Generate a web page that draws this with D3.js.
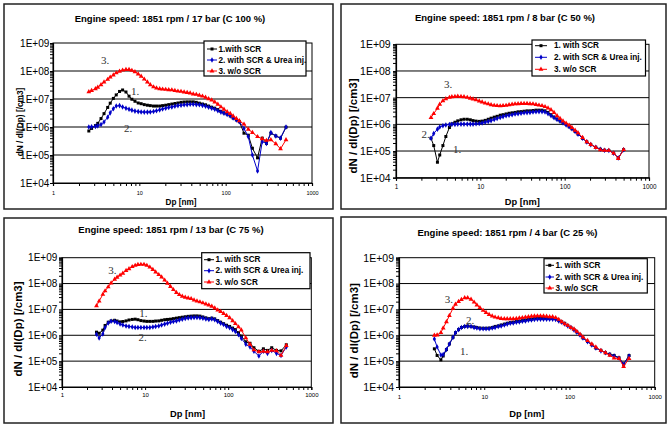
<!DOCTYPE html>
<html><head><meta charset="utf-8">
<script src="https://cdn.jsdelivr.net/npm/d3@7"></script>
<style>body{margin:0;background:#fff}svg{display:block}</style>
</head><body>
<svg id="c" width="668" height="425"></svg>
<script>
// ---------- DATA ----------
const dp = [2.6,2.8,3.1,3.3,3.6,3.9,4.3,4.6,5.0,5.4,
  5.9,6.4,7.0,7.6,8.2,8.9,9.7,10.5,11.4,12.4,
  13.4,14.6,15.8,17.2,18.6,20.2,21.9,23.8,25.8,28.0,
  30.4,33.0,35.8,38.8,42.1,45.7,49.6,53.9,58.5,63.5,
  68.9,74.8,81.2,88.1,95.6,104,113,122,133,144,
  163,183,204,234,265,297,334,381,432,500];

const yTicks = [1e4,1e5,1e6,1e7,1e8,1e9];
const yTickLabels = ["1E+04","1E+05","1E+06","1E+07","1E+08","1E+09"];
const xTicks = [1,10,100,1000];
const xTickLabels = ["1","10","100","1000"];

const titles = [
  "Engine speed: 1851 rpm / 17 bar (C 100 %)",
  "Engine speed: 1851 rpm / 8 bar (C 50 %)",
  "Engine speed: 1851 rpm / 13 bar (C 75 %)",
  "Engine speed: 1851 rpm / 4 bar (C 25 %)"
];
const yTitle = "dN / dl(Dp) [/cm3]";
const xTitle = "Dp [nm]";
const legendA = ["1.with SCR","2. with SCR & Urea inj.","3. w/o SCR"];
const legendB = ["1. with SCR","2. with SCR & Urea inj.","3. w/o SCR"];
const noteLabels = ["1.","2.","3."];

// Panel 1: 17 bar (C 100 %)
const p1Scr = [7.2e5,8.9e5,1.12e6,1.35e6,2.0e6,3.0e6,5.0e6,7.1e6,1.05e7,1.4e7,
  1.86e7,2.1e7,1.78e7,1.26e7,9.8e6,8.3e6,7.2e6,6.8e6,6.3e6,6.0e6,
  5.8e6,5.6e6,5.6e6,5.6e6,5.8e6,6.0e6,6.3e6,6.6e6,6.9e6,7.2e6,
  7.6e6,7.8e6,7.9e6,7.9e6,7.9e6,7.6e6,7.1e6,6.6e6,6.2e6,5.6e6,
  5.1e6,4.7e6,4.2e6,3.6e6,3.2e6,2.9e6,2.5e6,2.1e6,1.8e6,1.55e6,
  6.0e5,5.1e5,1.74e5,7.9e4,4.0e5,2.6e5,6.0e5,4.8e5,4.0e5,9.8e5];
const p1Urea = [1.0e6,1.02e6,1.05e6,1.1e6,1.23e6,1.51e6,2.24e6,3.2e6,4.5e6,5.6e6,
  5.8e6,5.2e6,4.7e6,4.3e6,4.0e6,3.7e6,3.55e6,3.45e6,3.4e6,3.4e6,
  3.45e6,3.6e6,3.8e6,4.1e6,4.4e6,4.7e6,5.0e6,5.2e6,5.5e6,5.8e6,
  6.0e6,6.2e6,6.3e6,6.5e6,6.5e6,6.3e6,6.2e6,5.9e6,5.5e6,5.1e6,
  4.7e6,4.3e6,3.8e6,3.4e6,3.1e6,2.8e6,2.5e6,2.1e6,1.8e6,1.55e6,
  8.9e5,4.5e5,1.0e5,2.7e4,3.0e5,2.6e5,6.3e5,4.8e5,4.0e5,1.0e6];
const p1NoScr = [1.8e7,2.0e7,2.3e7,2.6e7,3.2e7,4.0e7,5.0e7,6.0e7,7.2e7,8.5e7,
  9.8e7,1.07e8,1.12e8,1.12e8,1.05e8,9.3e7,7.8e7,6.5e7,5.1e7,4.0e7,
  3.2e7,2.7e7,2.45e7,2.3e7,2.24e7,2.2e7,2.14e7,2.1e7,2.0e7,1.9e7,
  1.86e7,1.78e7,1.7e7,1.62e7,1.51e7,1.45e7,1.35e7,1.26e7,1.15e7,1.02e7,
  9.1e6,7.8e6,6.5e6,5.2e6,4.3e6,3.5e6,3.0e6,2.45e6,2.0e6,1.66e6,
  1.26e6,8.3e5,6.3e5,4.5e5,3.8e5,3.3e5,3.5e5,2.5e5,1.66e5,3.5e5];

// Panel 2: 8 bar (C 50 %)
const p2Scr = [3.0e5,1.6e5,3.8e4,7.1e4,1.6e5,3.5e5,7.6e5,1.05e6,1.2e6,1.35e6,
  1.48e6,1.55e6,1.55e6,1.48e6,1.38e6,1.32e6,1.29e6,1.32e6,1.41e6,1.55e6,
  1.7e6,1.86e6,2.0e6,2.2e6,2.3e6,2.45e6,2.6e6,2.7e6,2.8e6,2.95e6,
  3.0e6,3.1e6,3.2e6,3.2e6,3.3e6,3.4e6,3.4e6,3.4e6,3.2e6,2.8e6,
  2.3e6,1.86e6,1.58e6,1.35e6,1.15e6,9.8e5,8.1e5,6.8e5,5.4e5,4.3e5,
  3.0e5,2.2e5,1.74e5,1.38e5,1.17e5,1.07e5,1.05e5,8.3e4,5.5e4,1.12e5];
const p2Urea = [3.0e5,4.5e5,6.6e5,7.9e5,8.9e5,9.5e5,9.8e5,1.0e6,1.0e6,1.02e6,
  1.02e6,1.02e6,1.02e6,1.02e6,1.02e6,1.05e6,1.07e6,1.12e6,1.2e6,1.29e6,
  1.38e6,1.51e6,1.66e6,1.8e6,1.95e6,2.1e6,2.2e6,2.3e6,2.45e6,2.5e6,
  2.6e6,2.7e6,2.75e6,2.8e6,2.9e6,2.95e6,3.0e6,3.0e6,2.9e6,2.5e6,
  2.1e6,1.78e6,1.51e6,1.32e6,1.12e6,9.5e5,8.1e5,6.8e5,5.4e5,4.3e5,
  3.0e5,2.2e5,1.74e5,1.38e5,1.17e5,1.07e5,1.05e5,8.3e4,5.5e4,1.12e5];
const p2NoScr = [1.8e6,2.5e6,4.0e6,5.6e6,7.6e6,9.1e6,1.02e7,1.07e7,1.1e7,1.12e7,
  1.1e7,1.07e7,1.02e7,9.5e6,8.9e6,8.3e6,7.4e6,6.8e6,6.2e6,5.8e6,
  5.4e6,5.1e6,5.0e6,4.9e6,5.0e6,5.1e6,5.4e6,5.6e6,5.8e6,5.9e6,
  6.0e6,6.0e6,6.0e6,5.9e6,5.8e6,5.5e6,5.2e6,5.0e6,4.6e6,4.1e6,
  3.5e6,2.75e6,2.1e6,1.66e6,1.32e6,1.1e6,9.3e5,7.6e5,6.0e5,4.8e5,
  3.2e5,2.2e5,1.74e5,1.35e5,1.1e5,1.05e5,1.05e5,8.3e4,5.2e4,1.12e5];

// Panel 3: 13 bar (C 75 %)
const p3Scr = [1.32e6,1.2e6,1.58e6,2.4e6,3.2e6,3.6e6,3.8e6,3.55e6,3.3e6,3.4e6,
  3.6e6,3.9e6,4.1e6,4.2e6,4.0e6,3.7e6,3.55e6,3.45e6,3.45e6,3.45e6,
  3.55e6,3.6e6,3.8e6,4.0e6,4.1e6,4.2e6,4.4e6,4.6e6,4.8e6,5.0e6,
  5.2e6,5.4e6,5.5e6,5.6e6,5.6e6,5.5e6,5.1e6,4.7e6,4.4e6,4.6e6,
  4.3e6,3.7e6,3.2e6,2.8e6,2.45e6,2.2e6,1.9e6,1.66e6,1.26e6,9.3e5,
  5.6e5,4.9e5,3.3e5,2.4e5,3.0e5,2.6e5,3.3e5,2.6e5,2.5e5,4.3e5];
const p3Urea = [1.1e6,7.9e5,1.12e6,2.0e6,3.0e6,3.5e6,3.4e6,3.1e6,2.75e6,2.5e6,
  2.3e6,2.2e6,2.1e6,2.0e6,2.0e6,2.0e6,2.0e6,2.0e6,2.0e6,2.1e6,
  2.2e6,2.3e6,2.5e6,2.7e6,2.9e6,3.2e6,3.4e6,3.6e6,3.9e6,4.2e6,
  4.5e6,4.7e6,4.8e6,4.9e6,4.9e6,4.8e6,4.6e6,4.3e6,4.1e6,4.3e6,
  4.0e6,3.4e6,2.95e6,2.6e6,2.2e6,1.95e6,1.66e6,1.41e6,1.05e6,7.6e5,
  4.5e5,3.5e5,2.4e5,1.58e5,2.4e5,2.0e5,2.6e5,2.0e5,1.66e5,3.5e5];
const p3NoScr = [1.38e7,2.1e7,3.8e7,5.2e7,7.4e7,1.05e8,1.45e8,1.74e8,2.1e8,2.5e8,
  3.2e8,3.7e8,4.5e8,5.0e8,5.4e8,5.5e8,5.5e8,5.0e8,4.3e8,3.5e8,
  2.8e8,2.2e8,1.78e8,1.35e8,1.02e8,7.6e7,5.8e7,4.5e7,3.7e7,3.2e7,
  2.95e7,2.75e7,2.6e7,2.3e7,2.1e7,1.95e7,1.78e7,1.62e7,1.48e7,1.32e7,
  1.12e7,9.5e6,8.3e6,6.9e6,5.8e6,4.7e6,3.6e6,2.8e6,2.1e6,1.58e6,
  7.9e5,4.5e5,2.7e5,2.3e5,2.4e5,2.3e5,2.6e5,2.5e5,1.66e5,4.0e5];

// Panel 4: 4 bar (C 25 %)
const p4Scr = [3.0e5,1.66e5,1.12e5,1.58e5,2.8e5,4.6e5,8.3e5,1.26e6,1.66e6,2.0e6,
  2.2e6,2.3e6,2.2e6,2.1e6,2.0e6,1.9e6,1.86e6,1.86e6,1.9e6,2.0e6,
  2.2e6,2.3e6,2.5e6,2.7e6,2.9e6,3.1e6,3.2e6,3.4e6,3.5e6,3.7e6,
  3.9e6,4.1e6,4.2e6,4.4e6,4.5e6,4.5e6,4.5e6,4.5e6,4.5e6,4.5e6,
  4.4e6,3.8e6,3.3e6,2.9e6,2.4e6,2.0e6,1.66e6,1.35e6,1.05e6,7.9e5,
  5.8e5,4.3e5,3.2e5,2.6e5,2.1e5,1.86e5,1.66e5,1.35e5,7.6e4,1.66e5];
const p4Urea = [7.2e5,3.5e5,1.74e5,1.8e5,2.8e5,4.6e5,8.3e5,1.26e6,1.66e6,2.0e6,
  2.2e6,2.2e6,2.2e6,2.0e6,1.9e6,1.8e6,1.78e6,1.78e6,1.8e6,1.9e6,
  2.0e6,2.2e6,2.3e6,2.5e6,2.7e6,2.9e6,3.0e6,3.2e6,3.3e6,3.5e6,
  3.6e6,3.8e6,3.9e6,4.1e6,4.2e6,4.2e6,4.2e6,4.2e6,4.2e6,4.2e6,
  4.1e6,3.6e6,3.2e6,2.75e6,2.3e6,2.0e6,1.62e6,1.32e6,1.02e6,7.8e5,
  5.6e5,4.2e5,3.2e5,2.5e5,2.1e5,1.8e5,1.58e5,1.32e5,7.4e4,1.58e5];
const p4NoScr = [1.0e6,1.02e6,1.26e6,1.9e6,3.3e6,5.8e6,1.1e7,1.58e7,2.0e7,2.4e7,
  2.8e7,2.8e7,2.45e7,1.9e7,1.48e7,1.17e7,9.1e6,7.6e6,6.3e6,5.5e6,
  5.0e6,4.7e6,4.4e6,4.3e6,4.3e6,4.3e6,4.3e6,4.4e6,4.6e6,4.8e6,
  5.0e6,5.2e6,5.4e6,5.5e6,5.6e6,5.6e6,5.5e6,5.4e6,5.2e6,5.2e6,
  4.8e6,4.1e6,3.3e6,2.75e6,2.4e6,2.0e6,1.74e6,1.41e6,1.1e6,8.5e5,
  6.2e5,4.6e5,3.5e5,2.6e5,2.1e5,1.66e5,1.32e5,1.26e5,6.2e4,1.26e5];

// curve annotations "1.","2.","3." anchored in data coordinates [Dp, value]
const notes1 = [[8.0,1.4e7],[6.65,6.8e5],[3.6,1.8e8]];
const notes2 = [[4.75,8.3e4],[2.0,3.0e5],[3.7,2.4e7]];
const notes3 = [[8.5,5.1e6],[8.3,5.9e5],[3.6,2.4e8]];
const notes4 = [[5.2,1.7e5],[6.1,2.8e6],[3.45,1.8e7]];

// ---------- LAYOUT ----------
const FONT = '"Liberation Sans", Arial, Helvetica, sans-serif';
const SERIF = '"Liberation Serif", "Times New Roman", serif';
const colors = ["#000000", "#0000C8", "#FF0000"];

const panels = [
  {frame:[4,4,333,209], plot:[53,43,312,183], title:[170,21.6], ylab:[20,122], ylabSize:8.3,
   xlab:[181,205.2], xlabSize:8.2, ytSize:10, ytPad:0.7, xtSize:5.5, xtPad:4.6,
   leg:[204,41,306,76], legRows:[49,60,71], legSample:[207,217], legText:218.5,
   names:legendA, data:[p1Scr,p1Urea,p1NoScr], notes:notes1},
  {frame:[341,4,666,209], plot:[396,44.3,649,177.7], title:[505,20.8], ylab:[353.2,126], ylabSize:11.5,
   xlab:[522.3,205.3], xlabSize:9.3, ytSize:10.5, ytPad:2.3, xtSize:6.4, xtPad:4,
   leg:[532,40,645.5,76], legRows:[45.7,57.3,69.3], legSample:[535,547], legText:554,
   names:legendB, data:[p2Scr,p2Urea,p2NoScr], notes:notes2},
  {frame:[4,218,333,423], plot:[62,257.7,311.3,387], title:[171,233], ylab:[18,329], ylabSize:11.5,
   xlab:[187.5,416.6], xlabSize:9.3, ytSize:10, ytPad:1.7, xtSize:6, xtPad:2.5,
   leg:[201.7,252.7,310,288.7], legRows:[259.7,270.7,282], legSample:[204,214], legText:215.5,
   names:legendB, data:[p3Scr,p3Urea,p3NoScr], notes:notes3},
  {frame:[341,217,666,423], plot:[399,257.7,654.7,387], title:[507.5,235.6], ylab:[353.5,330.7], ylabSize:11.5,
   xlab:[526.8,417.2], xlabSize:9.3, ytSize:10.5, ytPad:2, xtSize:6, xtPad:4.8,
   leg:[544,258.7,647.3,293], legRows:[265.3,277,288], legSample:[545.5,554], legText:555.5,
   names:legendB, data:[p4Scr,p4Urea,p4NoScr], notes:notes4}
];

const svg = d3.select("#c");
svg.append("rect").attr("width",668).attr("height",425).attr("fill","#fff");

const minorY = [];
for (let k = 4; k < 9; k++) for (let m = 2; m <= 9; m++) minorY.push(m * Math.pow(10, k));
const minorX = [];
for (let k = 0; k < 3; k++) for (let m = 2; m <= 9; m++) minorX.push(m * Math.pow(10, k));

const symbols = [
  d3.symbol().type(d3.symbolSquare).size(9),
  d3.symbol().type(d3.symbolDiamond).size(9),
  d3.symbol().type(d3.symbolTriangle).size(10)
];

panels.forEach((P, pi) => {
  const g = svg.append("g");
  const [fx0, fy0, fx1, fy1] = P.frame;
  g.append("rect").attr("x", fx0).attr("y", fy0).attr("width", fx1 - fx0).attr("height", fy1 - fy0)
    .attr("fill", "#fff").attr("stroke", "#222").attr("stroke-width", 1.5);

  const [px0, py0, px1, py1] = P.plot;
  const x = d3.scaleLog().domain([1, 1000]).range([px0, px1]);
  const y = d3.scaleLog().domain([1e4, 1e9]).range([py1, py0]);

  // gridlines
  g.append("g").selectAll("line").data(yTicks.slice(1, 5)).join("line")
    .attr("x1", px0).attr("x2", px1).attr("y1", d => y(d)).attr("y2", d => y(d))
    .attr("stroke", "#000").attr("stroke-width", 1);

  // plot border
  g.append("rect").attr("x", px0).attr("y", py0).attr("width", px1 - px0).attr("height", py1 - py0)
    .attr("fill", "none").attr("stroke", "#000").attr("stroke-width", 1);

  // axes
  const yAxis = d3.axisLeft(y).tickValues(yTicks).tickSize(3).tickPadding(P.ytPad)
    .tickFormat((d, i) => yTickLabels[i]);
  const ya = g.append("g").attr("transform", `translate(${px0},0)`).call(yAxis);
  const yMinor = d3.axisLeft(y).tickValues(minorY).tickSize(3).tickFormat("");
  g.append("g").attr("transform", `translate(${px0},0)`).call(yMinor).select(".domain").remove();

  const xAxis = d3.axisBottom(x).tickValues(xTicks).tickSize(3).tickPadding(P.xtPad)
    .tickFormat((d, i) => xTickLabels[i]);
  const xa = g.append("g").attr("transform", `translate(0,${py1})`).call(xAxis);
  const xMinor = d3.axisBottom(x).tickValues(minorX).tickSize(3).tickFormat("");
  g.append("g").attr("transform", `translate(0,${py1})`).call(xMinor).select(".domain").remove();

  [ya, xa].forEach(a => a.select(".domain").attr("stroke", "#000").attr("stroke-width", 1.2));
  g.selectAll(".tick line").attr("stroke", "#000");
  ya.selectAll("text").attr("font-family", FONT).attr("font-size", P.ytSize).attr("fill", "#000");
  xa.selectAll("text").attr("font-family", FONT).attr("font-size", P.xtSize).attr("fill", "#000");

  // titles
  g.append("text").attr("x", P.title[0]).attr("y", P.title[1]).attr("text-anchor", "middle")
    .attr("font-family", FONT).attr("font-weight", "bold").attr("font-size", 9.5).text(titles[pi]);
  g.append("text").attr("transform", `translate(${P.ylab[0]},${P.ylab[1]}) rotate(-90)`)
    .attr("text-anchor", "middle").attr("dominant-baseline", "central")
    .attr("font-family", FONT).attr("font-weight", "bold").attr("font-size", P.ylabSize).text(yTitle);
  g.append("text").attr("x", P.xlab[0]).attr("y", P.xlab[1]).attr("text-anchor", "middle")
    .attr("font-family", FONT).attr("font-weight", "bold").attr("font-size", P.xlabSize).text(xTitle);

  // series
  const line = d3.line().x((d, i) => x(dp[i])).y(d => y(d));
  P.data.forEach((vals, si) => {
    const sg = g.append("g");
    sg.append("path").datum(vals).attr("d", line).attr("fill", "none")
      .attr("stroke", colors[si]).attr("stroke-width", 1);
    sg.selectAll("path.m").data(vals).join("path").attr("class", "m")
      .attr("d", symbols[si]).attr("fill", colors[si])
      .attr("transform", (d, i) => `translate(${x(dp[i])},${y(d)})`);
  });

  // annotations
  g.selectAll("text.note").data(P.notes).join("text").attr("class", "note")
    .attr("x", d => x(d[0])).attr("y", d => y(d[1]))
    .attr("font-family", SERIF).attr("font-size", 11).attr("fill", "#333")
    .text((d, i) => noteLabels[i]);

  // legend
  const [lx0, ly0, lx1, ly1] = P.leg;
  g.append("rect").attr("x", lx0).attr("y", ly0).attr("width", lx1 - lx0).attr("height", ly1 - ly0)
    .attr("fill", "#fff").attr("stroke", "#000").attr("stroke-width", 1.2);
  P.names.forEach((name, si) => {
    const ly = P.legRows[si];
    g.append("line").attr("x1", P.legSample[0]).attr("x2", P.legSample[1]).attr("y1", ly).attr("y2", ly)
      .attr("stroke", colors[si]).attr("stroke-width", 1);
    g.append("path").attr("d", symbols[si]).attr("fill", colors[si])
      .attr("transform", `translate(${(P.legSample[0] + P.legSample[1]) / 2},${ly})`);
    g.append("text").attr("x", P.legText).attr("y", ly).attr("dominant-baseline", "central")
      .attr("font-family", FONT).attr("font-weight", "bold").attr("font-size", 8.2).text(name);
  });
});
</script>
</body></html>
